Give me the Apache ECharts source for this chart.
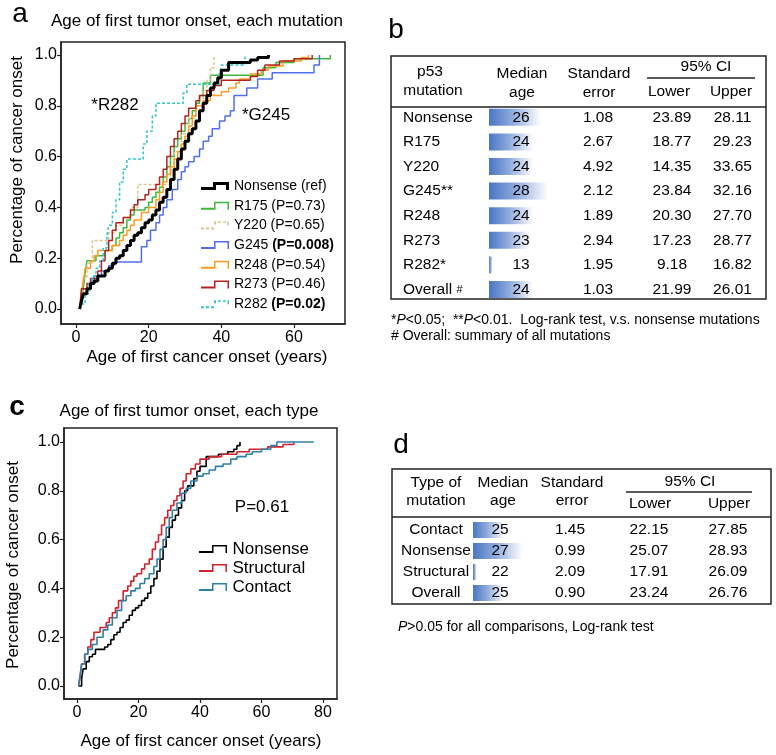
<!DOCTYPE html>
<html><head><meta charset="utf-8">
<script src="https://cdn.jsdelivr.net/npm/echarts@6/dist/echarts.min.js"></script>
<style>html,body{margin:0;padding:0;background:#fff}#c{width:776px;height:755px}</style>
</head><body><div id="c"></div>
<script>
// ---------- Panel a: age of first tumor onset, each mutation ----------
const ticksAX = [0, 20, 40, 60];
const ticksAY = [0, 0.2, 0.4, 0.6, 0.8, 1.0];
const namesA = ['Nonsense (ref)', 'R175 (P=0.73)', 'Y220 (P=0.65)', 'G245 (P=0.008)', 'R248 (P=0.54)', 'R273 (P=0.46)', 'R282 (P=0.02)'];
const boldA = ['G245 (P=0.008)', 'R282 (P=0.02)'];
const aNonsense = [[1,0],[1.5,0.03],[2,0.06],[3,0.08],[4,0.10],[5,0.11],[6,0.13],[8,0.15],[9,0.16],[10,0.18],[11,0.20],[12,0.21],[13,0.23],[14,0.25],[15,0.27],[16,0.29],[17,0.30],[18,0.32],[19,0.34],[20,0.35],[21,0.37],[22,0.39],[23,0.42],[24,0.44],[25,0.47],[26,0.51],[27,0.55],[28,0.59],[29,0.63],[30,0.66],[31,0.69],[32,0.71],[33,0.74],[34,0.78],[35,0.81],[36,0.84],[37,0.87],[38,0.89],[39,0.91],[40,0.94],[42,0.97],[48,0.98],[50,0.99],[53,1.0]];
const aR175 = [[1,0],[1.5,0.04],[2,0.08],[2.5,0.14],[3,0.19],[5.5,0.21],[8,0.23],[10,0.25],[11,0.28],[12,0.30],[13,0.32],[14,0.35],[15,0.37],[16,0.39],[19,0.40],[20,0.42],[21,0.44],[22,0.46],[23,0.48],[24,0.52],[25,0.56],[26,0.60],[27,0.64],[28,0.67],[29,0.70],[30,0.73],[31,0.75],[32,0.78],[33,0.81],[34,0.84],[35,0.89],[37,0.92],[51.5,0.95],[55,0.97],[60,0.985],[70,1.0]];
const aY220 = [[1,0],[1.5,0.06],[2,0.12],[3,0.18],[4.5,0.27],[9,0.30],[11,0.33],[13,0.36],[15,0.40],[17,0.49],[26,0.55],[27,0.62],[29,0.69],[31,0.75],[33,0.80],[35,0.86],[36,0.90],[37,0.95],[38,1.0]];
const aG245 = [[1,0],[1.5,0.03],[2,0.06],[3,0.08],[4,0.11],[5,0.13],[7,0.15],[9,0.17],[10.5,0.185],[18,0.245],[19.5,0.27],[20.5,0.31],[22,0.34],[23,0.37],[24,0.40],[25,0.43],[26.5,0.47],[28,0.51],[29,0.54],[30,0.56],[31,0.58],[32.5,0.60],[34,0.63],[35,0.66],[36.5,0.68],[37.5,0.71],[39.5,0.74],[41,0.76],[42.5,0.78],[43.5,0.84],[47,0.87],[50,0.905],[54,0.93],[65.5,0.96],[67,1.0]];
const aR248 = [[1,0],[1.5,0.06],[2,0.11],[2.5,0.16],[4,0.19],[5,0.21],[6,0.23],[10,0.25],[12,0.27],[13,0.29],[14,0.31],[15,0.33],[16,0.35],[18,0.38],[20,0.40],[22,0.43],[23,0.46],[24,0.50],[25,0.53],[26,0.56],[27,0.59],[28,0.62],[29,0.65],[30,0.68],[31,0.72],[32,0.76],[33,0.80],[35,0.82],[37,0.84],[40,0.855],[42,0.87],[44,0.89],[45,0.905],[48,0.925],[51,0.94],[53,0.957],[57,0.976],[62,0.99],[64,1.0]];
const aR273 = [[1,0],[1.5,0.08],[3,0.10],[4,0.12],[6,0.15],[7,0.19],[8,0.23],[9,0.27],[10,0.31],[11,0.34],[13,0.36],[15,0.39],[16,0.41],[17,0.43],[19,0.45],[20,0.47],[22,0.49],[23,0.52],[24,0.55],[25,0.60],[26,0.64],[27,0.67],[28,0.70],[29,0.73],[30,0.76],[31,0.79],[33,0.82],[34,0.84],[36,0.86],[38,0.88],[40,0.90],[48,0.915],[50,0.94],[52,0.96],[56,0.976],[60,0.985],[65,1.0]];
const aR282 = [[1,0],[1.5,0.02],[2.5,0.06],[3.5,0.10],[4.5,0.13],[5.5,0.16],[6.5,0.19],[7.5,0.24],[8.5,0.29],[9,0.33],[10,0.38],[11,0.43],[12,0.50],[13,0.55],[14,0.59],[18.5,0.65],[19.5,0.70],[21,0.76],[22,0.81],[29.5,0.85],[30.5,0.885],[39.5,0.93],[40,0.96],[46.5,1.0]];
const dataA = [aNonsense, aR175, aY220, aG245, aR248, aR273, aR282];

// ---------- Panel c: each type ----------
const ticksCX = [0, 20, 40, 60, 80];
const ticksCY = [0, 0.2, 0.4, 0.6, 0.8, 1.0];
const namesC = ['Nonsense', 'Structural', 'Contact'];
const cNonsense = [[0.5,0],[1.5,0.03],[2,0.07],[3,0.10],[4,0.12],[5,0.13],[6,0.15],[9,0.16],[10,0.17],[11,0.19],[12,0.21],[13,0.22],[14,0.24],[15,0.26],[16,0.27],[17,0.29],[18,0.31],[19,0.32],[20,0.33],[21,0.35],[22,0.36],[23,0.38],[24,0.41],[25,0.44],[26,0.47],[27,0.52],[28,0.57],[29,0.61],[30,0.65],[31,0.68],[32,0.70],[33,0.73],[34,0.76],[35,0.80],[36,0.82],[38,0.85],[39,0.88],[40,0.90],[42,0.94],[46,0.95],[49,0.96],[51,0.97],[52,0.985],[53,1.0]];
const cStructural = [[0.5,0],[1,0.04],[1.5,0.09],[2.5,0.13],[3.5,0.16],[4.5,0.19],[5.5,0.22],[7.5,0.24],[9.5,0.26],[10.5,0.28],[11.5,0.30],[12.5,0.32],[13.5,0.35],[15,0.39],[16.5,0.41],[17.5,0.43],[18.5,0.45],[19.5,0.46],[21,0.48],[22,0.50],[23.5,0.52],[24.5,0.56],[25.5,0.59],[26.5,0.62],[27.5,0.66],[28.5,0.69],[29.5,0.72],[30.5,0.74],[31.5,0.76],[32.5,0.78],[33.5,0.81],[34.5,0.84],[35.5,0.87],[37,0.89],[38.5,0.91],[40,0.93],[43,0.94],[47,0.95],[52,0.96],[56,0.97],[62,0.98],[67,0.99],[70.5,1.0]];
const cContact = [[0.5,0],[1,0.04],[1.5,0.09],[2.5,0.13],[3.5,0.15],[5,0.17],[6.5,0.20],[8.5,0.23],[10,0.25],[11.5,0.28],[13,0.31],[14.5,0.35],[16,0.37],[17.5,0.39],[19,0.40],[20.5,0.42],[22,0.44],[23.5,0.46],[25,0.49],[26,0.52],[27,0.56],[28,0.60],[29,0.65],[30,0.69],[31,0.72],[32.5,0.75],[34,0.79],[35.5,0.81],[37,0.84],[39,0.86],[41,0.87],[43,0.885],[45,0.90],[47.5,0.91],[50,0.93],[52,0.94],[55,0.95],[57,0.96],[60,0.97],[63,0.985],[65,1.0],[77,1.0]];
const dataC = [cNonsense, cStructural, cContact];

// ---------- Table b ----------
const mutB = ['Nonsense', 'R175', 'Y220', 'G245**', 'R248', 'R273', 'R282*', 'Overall #'];
const medianB = [26, 24, 24, 28, 24, 23, 13, 24];
const seB = [1.08, 2.67, 4.92, 2.12, 1.89, 2.94, 1.95, 1.03];
const lowerB = [23.89, 18.77, 14.35, 23.84, 20.30, 17.23, 9.18, 21.99];
const upperB = [28.11, 29.23, 33.65, 32.16, 27.70, 28.77, 16.82, 26.01];

// ---------- Table d ----------
const typeD = ['Contact', 'Nonsense', 'Structural', 'Overall'];
const medianD = [25, 27, 22, 25];
const seD = [1.45, 0.99, 2.09, 0.90];
const lowerD = [22.15, 25.07, 17.91, 23.24];
const upperD = [27.85, 28.93, 26.09, 26.76];

// ---------- styling ----------
const FONT = "'Liberation Sans', Arial, Helvetica, sans-serif";
const colorsA = ['#000000', '#3cb93c', '#d6c68e', '#4f6ff0', '#ff9a1e', '#b3221f', '#33c4cc'];
const widthA = [3, 1.5, 1.5, 1.5, 1.5, 1.5, 1.5];
const dashA = ['solid', 'solid', [3, 2], 'solid', 'solid', 'solid', [3, 2]];
const colorsC = ['#000000', '#d4202a', '#2e80a8'];

const ICON_SOLID = 'path://M0,6H13V0H28V8H26.5V1.5H14.5V8H0Z';
const ICON_THICK = 'path://M0,5H12V0H28V8H25V3H15V8H0Z';
const ICON_DASH = 'path://M0,6h3v2h-3zM5,6h3v2h-3zM10,6h3v2h-3zM13,0h2v3h-2zM17,0h3v1.5h-3zM22,0h3v1.5h-3zM26.5,0h1.5v4h-1.5z';

const chart = echarts.init(document.getElementById('c'), null, {renderer: 'canvas'});

function T(x, y, text, o) {
  return {type: 'text', x: x, y: y, silent: true, z: 10,
    style: Object.assign({text: text, fill: '#000', fontSize: 15.5, fontFamily: FONT,
      align: 'center', verticalAlign: 'middle', textAlign: 'center', textVerticalAlign: 'middle'}, o || {})};
}
function L(x1, y1, x2, y2, w) {
  return {type: 'line', silent: true, shape: {x1: x1, y1: y1, x2: x2, y2: y2}, style: {stroke: '#222', lineWidth: w || 1.2}};
}
function R(x, y, w, h) {
  return {type: 'rect', silent: true, shape: {x: x, y: y, width: w, height: h}, style: {fill: 'none', stroke: '#222', lineWidth: 1.5}};
}
const grad = () => new echarts.graphic.LinearGradient(0, 0, 1, 0, [
  {offset: 0, color: '#4a76c4'}, {offset: 0.45, color: '#8eaadc'}, {offset: 1, color: '#ffffff'}]);

// layout of tables
const bRow0 = 117.3, bRowH = 24.6;
const dRow0 = 530, dRowH = 21;

const graphics = [];
// panel letters
graphics.push(T(20, 14, 'a', {fontSize: 28}));
graphics.push(T(396, 30, 'b', {fontSize: 28}));
graphics.push(T(17, 407, 'c', {fontSize: 28, fontWeight: 'bold'}));
graphics.push(T(401, 445, 'd', {fontSize: 28}));
// titles
graphics.push(T(197, 21, 'Age of first tumor onset, each mutation', {fontSize: 17}));
graphics.push(T(189, 411, 'Age of first tumor onset, each type', {fontSize: 17}));
// axis names
graphics.push(T(207, 357, 'Age of first cancer onset (years)', {fontSize: 17}));
graphics.push(Object.assign(T(17, 160, 'Percentage of cancer onset', {fontSize: 17}), {rotation: Math.PI / 2}));
graphics.push(T(201, 741, 'Age of first cancer onset (years)', {fontSize: 17}));
graphics.push(Object.assign(T(13, 565, 'Percentage of cancer onset', {fontSize: 17}), {rotation: Math.PI / 2}));
// annotations
graphics.push(T(115, 105, '*R282', {fontSize: 17}));
graphics.push(T(266, 115, '*G245', {fontSize: 17}));
graphics.push(T(262, 507, 'P=0.61', {fontSize: 17}));

// table b frame
graphics.push(R(391, 56, 375, 243));
graphics.push(L(391, 107, 766, 107, 1.5));
graphics.push(L(647, 78, 755, 78, 1.5));
graphics.push(T(430, 72, 'p53'));
graphics.push(T(433, 91, 'mutation'));
graphics.push(T(522, 74, 'Median'));
graphics.push(T(522, 93, 'age'));
graphics.push(T(599, 74, 'Standard'));
graphics.push(T(599, 93, 'error'));
graphics.push(T(706, 67, '95% CI'));
graphics.push(T(669, 92, 'Lower'));
graphics.push(T(731, 92, 'Upper'));
mutB.forEach((m, i) => {
  const y = bRow0 + i * bRowH;
  const txt = m.replace('#', '{s|#}');
  graphics.push(T(403, y, txt, {align: 'left', textAlign: 'left',
    rich: {s: {fontSize: 11, fontFamily: FONT, fill: '#000'}}}));
  graphics.push(T(521, y, String(medianB[i])));
  graphics.push(T(598, y, seB[i].toFixed(2)));
  graphics.push(T(672, y, lowerB[i].toFixed(2)));
  graphics.push(T(732.5, y, upperB[i].toFixed(2)));
});
const richI = {i: {fontStyle: 'italic', fontSize: 14, fontFamily: FONT, fill: '#000'}};
graphics.push(T(391, 320, '*{i|P}<0.05;  **{i|P}<0.01.  Log-rank test, v.s. nonsense mutations', {fontSize: 14, align: 'left', textAlign: 'left', rich: richI}));
graphics.push(T(391, 336, '# Overall: summary of all mutations', {fontSize: 14, align: 'left', textAlign: 'left'}));

// table d frame
graphics.push(R(392, 469, 379, 135));
graphics.push(L(392, 517, 771, 517, 1.5));
graphics.push(L(626, 492, 752, 492, 1.5));
graphics.push(T(436, 483, 'Type of'));
graphics.push(T(436, 501, 'mutation'));
graphics.push(T(503, 483, 'Median'));
graphics.push(T(503, 501, 'age'));
graphics.push(T(572, 483, 'Standard'));
graphics.push(T(572, 501, 'error'));
graphics.push(T(690, 482, '95% CI'));
graphics.push(T(650, 504, 'Lower'));
graphics.push(T(729, 504, 'Upper'));
typeD.forEach((m, i) => {
  const y = dRow0 + i * dRowH;
  graphics.push(T(436, y, m));
  graphics.push(T(500, y, String(medianD[i])));
  graphics.push(T(570, y, seD[i].toFixed(2)));
  graphics.push(T(649, y, lowerD[i].toFixed(2)));
  graphics.push(T(728, y, upperD[i].toFixed(2)));
});
graphics.push(T(398, 627, '{i|P}>0.05 for all comparisons, Log-rank test', {fontSize: 14, align: 'left', textAlign: 'left', rich: richI}));

// ---------- axes ----------
const tickLabelStyle = {color: '#000', fontSize: 16, fontFamily: FONT};
function kmX(grid, min, max, ticks) {
  return {gridIndex: grid, type: 'value', min: min, max: max,
    axisLine: {show: true, onZero: false, lineStyle: {color: '#222', width: 1.5}},
    axisTick: {show: true, length: 4, customValues: ticks, lineStyle: {color: '#222', width: 1.2}},
    axisLabel: Object.assign({customValues: ticks, margin: 6, formatter: v => String(v)}, tickLabelStyle),
    splitLine: {show: false}};
}
function kmY(grid, min, max, ticks) {
  return {gridIndex: grid, type: 'value', min: min, max: max,
    axisLine: {show: true, onZero: false, lineStyle: {color: '#222', width: 1.5}},
    axisTick: {show: true, length: 4, customValues: ticks, lineStyle: {color: '#222', width: 1.2}},
    axisLabel: Object.assign({customValues: ticks, margin: 4, formatter: v => v.toFixed(1)}, tickLabelStyle),
    splitLine: {show: false}};
}

const series = [];
dataA.forEach((d, i) => {
  series.push({type: 'line', name: namesA[i], xAxisIndex: 0, yAxisIndex: 0, data: d, step: 'end',
    symbol: 'none', color: colorsA[i], z: i === 0 ? 5 : 3, silent: true,
    lineStyle: {color: colorsA[i], width: widthA[i], type: dashA[i]}});
});
dataC.forEach((d, i) => {
  series.push({type: 'line', name: namesC[i], xAxisIndex: 1, yAxisIndex: 1, data: d, step: 'end',
    symbol: 'none', color: colorsC[i], z: 3 + i, silent: true,
    lineStyle: {color: colorsC[i], width: 1.6}});
});
series.push({type: 'bar', name: 'medianB', xAxisIndex: 2, yAxisIndex: 2, data: medianB, barWidth: 17,
  itemStyle: {color: grad()}, silent: true});
series.push({type: 'bar', name: 'medianD', xAxisIndex: 3, yAxisIndex: 3, data: medianD, barWidth: 16,
  itemStyle: {color: grad()}, silent: true});

const iconsA = [ICON_THICK, ICON_SOLID, ICON_DASH, ICON_SOLID, ICON_SOLID, ICON_SOLID, ICON_DASH];

const option = {
  animation: false,
  backgroundColor: '#fff',
  grid: [
    {left: 61, top: 42, width: 284, height: 282, show: true, borderColor: '#222', borderWidth: 1.5, backgroundColor: 'transparent', outerBoundsMode: 'none'},
    {left: 64, top: 428, width: 273, height: 271, show: true, borderColor: '#222', borderWidth: 1.5, backgroundColor: 'transparent', outerBoundsMode: 'none'},
    {left: 489, top: 105, width: 74, height: 196.8, outerBoundsMode: 'none'},
    {left: 473, top: 519.5, width: 77.3, height: 84, outerBoundsMode: 'none'}
  ],
  xAxis: [
    kmX(0, -4.13, 74.04, ticksAX),
    kmX(1, -4.23, 84.55, ticksCX),
    {gridIndex: 2, type: 'value', min: 12, max: 32, show: false},
    {gridIndex: 3, type: 'value', min: 21.6, max: 30, show: false}
  ],
  yAxis: [
    kmY(0, -0.059, 1.051, ticksAY),
    kmY(1, -0.0533, 1.0574, ticksCY),
    {gridIndex: 2, type: 'category', data: mutB, inverse: true, show: false},
    {gridIndex: 3, type: 'category', data: typeD, inverse: true, show: false}
  ],
  legend: [
    {orient: 'vertical', left: 201, top: 178, padding: 0, itemWidth: 28, itemHeight: 8, itemGap: 3.7,
      selectedMode: false, itemStyle: {borderWidth: 0},
      data: namesA.map((n, i) => ({name: n, icon: iconsA[i]})),
      formatter: n => {
        if (boldA.indexOf(n) >= 0) { const k = n.indexOf(' '); return n.slice(0, k) + ' {b|' + n.slice(k + 1) + '}'; }
        return n;
      },
      textStyle: {fontSize: 14, fontFamily: FONT, color: '#000', lineHeight: 16,
        rich: {b: {fontSize: 14, fontFamily: FONT, fontWeight: 'bold', color: '#000', lineHeight: 16}}}},
    {orient: 'vertical', left: 199, top: 540, padding: 0, itemWidth: 29, itemHeight: 8, itemGap: 1,
      selectedMode: false, itemStyle: {borderWidth: 0},
      data: namesC.map(n => ({name: n, icon: ICON_SOLID})),
      textStyle: {fontSize: 17, fontFamily: FONT, color: '#000', lineHeight: 18}}
  ],
  graphic: graphics,
  series: series
};
chart.setOption(option);
</script>
</body></html>
